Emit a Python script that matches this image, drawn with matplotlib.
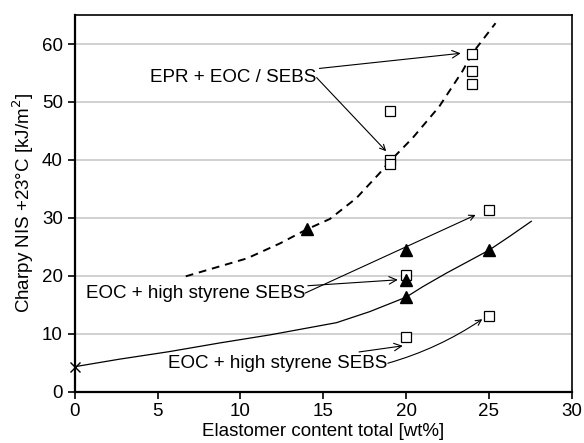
import matplotlib
matplotlib.use('Agg')
from matplotlib import pyplot as plt

plt.rcParams['font.family'] = ['Liberation Sans', 'DejaVu Sans']

# open squares
sq_x = [24, 24, 24, 19, 19, 19, 25, 20, 20, 25]
sq_y = [58.3, 55.4, 53.1, 48.5, 40.0, 39.3, 31.3, 20.1, 9.5, 13.1]

# filled triangles
tri_x = [14, 20, 20, 20, 25]
tri_y = [28.0, 24.4, 19.2, 16.3, 24.4]

# reference (neat PP)
ref_x = [0]
ref_y = [4.3]

# dashed trend
dash_x = [6.7, 10.4, 12.4, 14, 15.4, 17.0, 18.4, 19.0, 20.4, 22.0, 23.4, 24.0, 25.4]
dash_y = [19.9, 23.0, 25.6, 28.0, 29.8, 33.4, 37.7, 39.7, 43.8, 49.2, 55.3, 58.4, 63.6]

# solid trend
solid_x = [0, 2.7, 5.7, 8.75, 11.8, 15.8, 17.8, 20, 21.0, 22.4, 25, 26.25, 27.56]
solid_y = [4.3, 5.6, 6.9, 8.4, 9.8, 11.9, 13.8, 16.3, 18.1, 20.4, 24.4, 26.8, 29.4]

fig = plt.figure(figsize=(5.84, 4.43), dpi=100)
ax = fig.add_axes([0.128, 0.116, 0.851, 0.85])

ax.set_xlim(0, 30)
ax.set_ylim(0, 65)
ax.set_xticks([0, 5, 10, 15, 20, 25, 30])
ax.set_yticks([0, 10, 20, 30, 40, 50, 60])
ax.yaxis.grid(True, color='#c8c8c8', lw=1.2)
ax.set_axisbelow(True)

ax.plot(dash_x, dash_y, color='black', ls=(0, (4, 3)), lw=1.4)
ax.plot(solid_x, solid_y, color='black', lw=0.9)
ax.plot(sq_x, sq_y, ls='none', marker='s', ms=7, mfc='white', mec='black', mew=0.9)
ax.plot(tri_x, tri_y, ls='none', marker='^', ms=8, color='black')
ax.plot(ref_x, ref_y, ls='none', marker='x', ms=7, color='black', mew=1, clip_on=False)

fs = 13.5
arr = dict(arrowstyle='->', color='black', lw=0.8, shrinkA=0, shrinkB=0)
ax.annotate('EPR + EOC / SEBS', xy=(23.3, 58.4), xytext=(14.6, 54.2),
            ha='right', va='center', fontsize=fs, arrowprops=arr)
ax.annotate('', xy=(18.8, 41.5), xytext=(14.6, 54.2), arrowprops=arr)

ax.annotate('EOC + high styrene SEBS', xy=(19.5, 19.3), xytext=(13.9, 17.0),
            ha='right', va='center', fontsize=fs, arrowprops=arr)
ax.annotate('', xy=(24.2, 30.5), xytext=(13.9, 17.0), arrowprops=arr)

ax.annotate('EOC + high styrene SEBS', xy=(19.8, 7.9), xytext=(18.9, 4.9),
            ha='right', va='center', fontsize=fs, arrowprops=arr)
ax.annotate('', xy=(24.6, 12.5), xytext=(18.9, 4.9),
            arrowprops=dict(arr, connectionstyle='arc3,rad=0.08'))

for s in ['left', 'bottom']:
    ax.spines[s].set_linewidth(1.6)
for s in ['top', 'right']:
    ax.spines[s].set_linewidth(1.2)
ax.tick_params(direction='out', length=5, width=1.2, labelsize=fs)

ax.set_xlabel('Elastomer content total [wt%]', fontsize=fs, labelpad=2)
ax.set_ylabel('Charpy NIS +23°C [kJ/m$^2$]', fontsize=fs, labelpad=4)

plt.savefig('out.png', dpi=100)
